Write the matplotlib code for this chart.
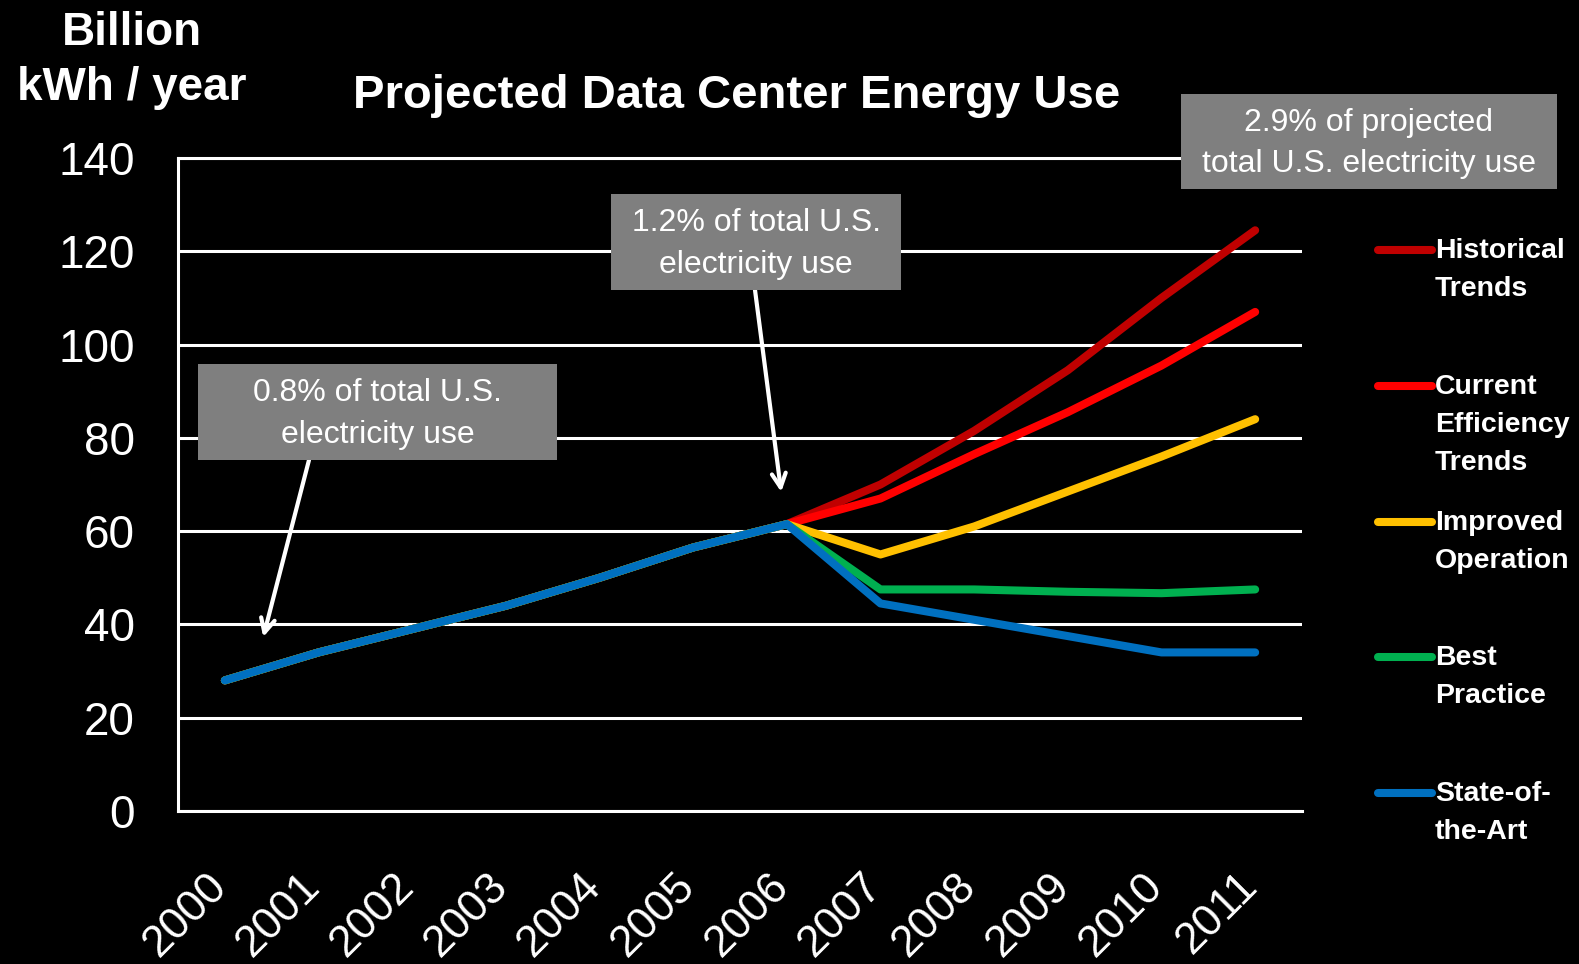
import numpy as np
import matplotlib
matplotlib.use('Agg')
import matplotlib.pyplot as plt
from matplotlib.lines import Line2D
from matplotlib.patches import Rectangle
from matplotlib.transforms import ScaledTranslation

# data (billion kWh / year)
years = ['2000', '2001', '2002', '2003', '2004', '2005',
         '2006', '2007', '2008', '2009', '2010', '2011']
shared = [28, 34, 39, 44, 50, 56.5, 61.5]
historical = shared + [70, 81.5, 94.5, 110, 124.5]
current = shared + [67, 76.5, 85.5, 95.5, 107]
improved = shared + [55, 61, 68.5, 76, 84]
best = shared + [47.5, 47.5, 47, 46.7, 47.5]
state_art = shared + [44.5, 41, 37.5, 34, 34]

series = [historical, current, improved, best, state_art]
names = ['Historical\nTrends', 'Current\nEfficiency\nTrends', 'Improved\nOperation',
         'Best\nPractice', 'State-of-\nthe-Art']
colors = ['#C00000', '#FF0000', '#FFC000', '#00B050', '#0070C0']

notes = ['0.8% of total U.S.\nelectricity use',
         '1.2% of total U.S.\nelectricity use',
         '2.9% of projected\ntotal U.S. electricity use']
# arrow tips in data coords (year index, value)
note_tips = [(0.41, 37.3), (5.94, 68.4), None]

W, H = 1579, 964

def fx(x):
    return x / W

def fy(y):
    return 1 - y / H

plt.rcParams['font.family'] = ['Liberation Sans', 'DejaVu Sans']

fig = plt.figure(figsize=(W / 100, H / 100), dpi=100, facecolor='black')
ax = fig.add_axes([fx(178), fy(811), (1302 - 178) / W, (811 - 158) / H])
ax.set_facecolor('black')

x = np.arange(len(years))
for vals, c in zip(series, colors):
    ax.plot(x, vals, color=c, lw=5.8, solid_capstyle='round',
            solid_joinstyle='round', zorder=3)

ax.set_xlim(-0.5, 11.5)
ax.set_ylim(0, 140)
ax.set_yticks(range(0, 141, 20))
ax.yaxis.grid(True, color='white', lw=2.2)
ax.set_axisbelow(True)
for side in ['left', 'top', 'bottom']:
    ax.spines[side].set_color('white')
    ax.spines[side].set_linewidth(2.2)
ax.spines['right'].set_visible(False)

ax.set_xticks(x)
ax.set_xticklabels(years, rotation=45, ha='right', va='top')
ax.tick_params(axis='y', length=0, pad=31, labelsize=33, labelcolor='white')
ax.tick_params(axis='x', length=0, pad=39, labelsize=32, labelcolor='white')
shift = ScaledTranslation(0.1, 0, fig.dpi_scale_trans)
for lab in ax.get_xticklabels():
    lab.set_transform(lab.get_transform() + shift)

# titles
fig.text(fx(737), fy(108), 'Projected Data Center Energy Use', ha='center',
         va='baseline', fontsize=34, weight='bold', color='white')
fig.text(fx(132), fy(45), 'Billion', ha='center', va='baseline',
         fontsize=33, weight='bold', color='white')
fig.text(fx(132), fy(100), 'kWh / year', ha='center', va='baseline',
         fontsize=33, weight='bold', color='white')

# grey callout boxes
boxes = [(198, 364, 557, 460), (611, 194, 901, 290), (1181, 94, 1557, 189)]
starts = [(309, 460), (755, 290), None]
for (x0, y0, x1, y1), txt, tip, st in zip(boxes, notes, note_tips, starts):
    fig.add_artist(Rectangle((fx(x0), fy(y1)), (x1 - x0) / W, (y1 - y0) / H,
                             transform=fig.transFigure, facecolor='#7F7F7F',
                             edgecolor='none', zorder=5))
    fig.text(fx((x0 + x1) / 2), fy((y0 + y1) / 2 + 2), txt, ha='center', va='center',
             fontsize=23, color='white', linespacing=1.5, zorder=6)
    if tip is not None:
        ax.annotate('', xy=tip, xycoords='data',
                    xytext=(fx(st[0]), fy(st[1])), textcoords='figure fraction',
                    arrowprops=dict(arrowstyle='->, head_length=1.0, head_width=0.5',
                                    color='white', lw=3, shrinkA=0, shrinkB=0),
                    annotation_clip=False, zorder=6)

# legend drawn by hand on the right
legend_y = [250, 386, 522, 657, 793]
for ly, name, c in zip(legend_y, names, colors):
    fig.add_artist(Line2D([fx(1378), fx(1432)], [fy(ly), fy(ly)], color=c, lw=5.8,
                          solid_capstyle='round', transform=fig.transFigure))
    fig.text(fx(1435), fy(ly - 12), name, ha='left', va='top', fontsize=20.5,
             weight='bold', color='white', linespacing=1.6)

fig.savefig('out.png', dpi=100, facecolor='black')
